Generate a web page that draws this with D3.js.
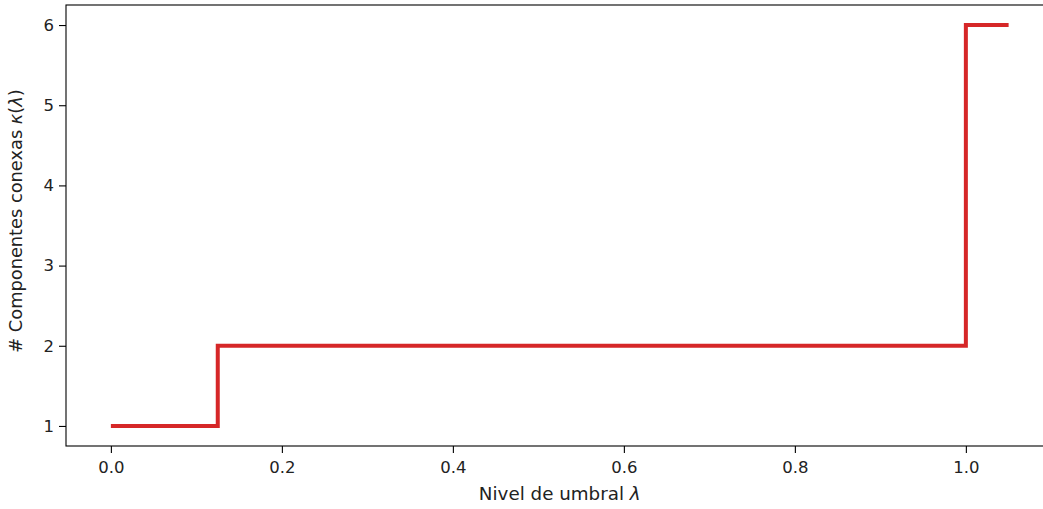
<!DOCTYPE html>
<meta charset="utf-8">
<style>
  body { margin: 0; background: #fff; }
  text { font-family: "DejaVu Sans", sans-serif; fill: #222; }
  .step { fill: none; stroke: #d62728; stroke-width: 4px; }
</style>
<svg width="1043" height="509"></svg>
<script src="https://d3js.org/d3.v7.min.js"></script>
<script>
// threshold levels and component counts (step-after)
var lambdas = [0.0, 0.125, 1.0, 1.05];
var kappas = [1, 2, 6, 6];
var xTicks = [0.0, 0.2, 0.4, 0.6, 0.8, 1.0];
var yTicks = [1, 2, 3, 4, 5, 6];

var svg = d3.select("svg");

// axes box (right side runs past the picture edge, like the original crop)
var padL = 66, padT = 5, padB = 446;
var x = d3.scaleLinear().domain([-0.0525, 1.1025]).range([padL, padL + 987.5]);
var y = d3.scaleLinear().domain([0.75, 6.25]).range([padB, padT]);

var data = lambdas.map(function(l, i) { return [l, kappas[i]]; });

var line = d3.line()
  .x(function(d) { return x(d[0]); })
  .y(function(d) { return y(d[1]); })
  .curve(d3.curveStepAfter);

svg.append("path").datum(data).attr("class", "step").attr("d", line);

// frame
svg.append("rect")
  .attr("x", padL).attr("y", padT)
  .attr("width", x.range()[1] - padL).attr("height", padB - padT)
  .attr("fill", "none").attr("stroke", "#000").attr("stroke-width", 1.1);

var xAxis = svg.append("g").attr("transform", "translate(0," + padB + ")")
  .call(d3.axisBottom(x).tickValues(xTicks).tickFormat(d3.format(".1f")).tickSize(7).tickPadding(8));
var yAxis = svg.append("g").attr("transform", "translate(" + padL + ",0)")
  .call(d3.axisLeft(y).tickValues(yTicks).tickFormat(d3.format("d")).tickSize(7).tickPadding(5));

[xAxis, yAxis].forEach(function(a) {
  a.select(".domain").remove();
  a.selectAll("line").attr("stroke", "#000").attr("stroke-width", 1.1);
  a.selectAll("text").attr("font-size", 16.5).attr("font-family", "DejaVu Sans, sans-serif").attr("fill", "#222");
});

// axis labels, centred on the axes box
var xl = svg.append("text").attr("x", (x.range()[0] + x.range()[1]) / 2).attr("y", 500)
  .attr("text-anchor", "middle").attr("font-size", 18.3);
xl.append("tspan").text("Nivel de umbral ");
xl.append("tspan").attr("font-style", "italic").text("λ");

var yl = svg.append("text")
  .attr("transform", "translate(22,221) rotate(-90)")
  .attr("text-anchor", "middle").attr("font-size", 17.8);
yl.append("tspan").text("# Componentes conexas ");
yl.append("tspan").attr("font-style", "italic").text("κ");
yl.append("tspan").text("(");
yl.append("tspan").attr("font-style", "italic").text("λ");
yl.append("tspan").text(")");
</script>
